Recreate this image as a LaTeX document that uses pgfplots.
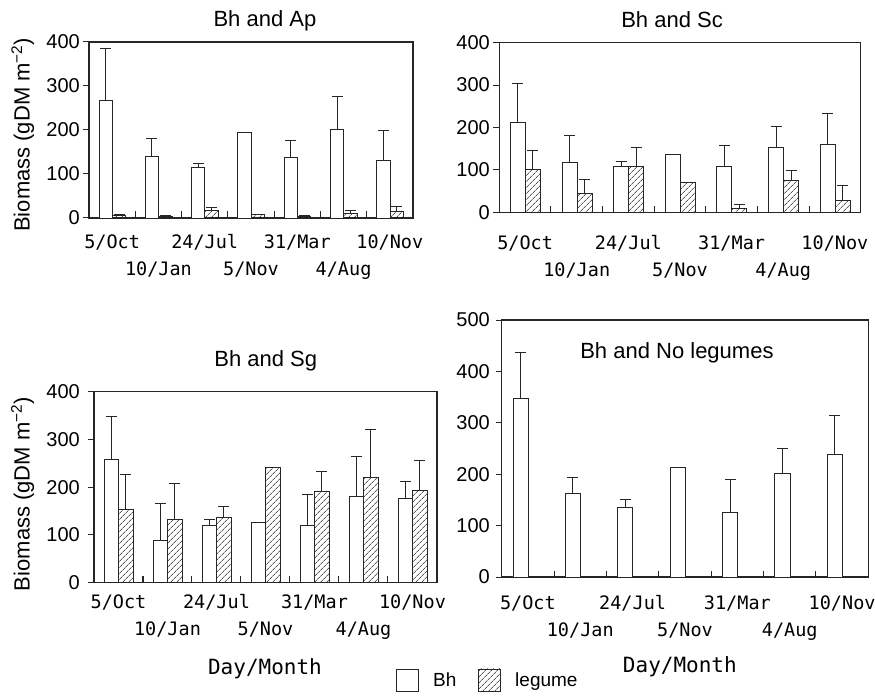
\documentclass[border=0pt]{standalone}
\usepackage{fontspec}
\setmainfont{Liberation Sans}
\newfontfamily\mono{DejaVu Sans Mono}
\usepackage{pgfplots}
\pgfplotsset{compat=1.18}
\usepackage{pgfplotstable}
\usetikzlibrary{patterns.meta}

\pgfplotstableread{
x bh bhe lg lge
0 268 118 5 2
1 140 41 4 2
2 115 10 17 6
3 194 0 7 0
4 138 38 4 1
5 201 75 10 7
6 130 69 15 12
}\tabAp
\pgfplotstableread{
x bh bhe lg lge
0 211 92 101 46
1 118 64 45 33
2 109 10 107 47
3 136 0 70 0
4 108 49 9 9
5 152 50 74 24
6 161 73 28 35
}\tabSc
\pgfplotstableread{
x bh bhe lg lge
0 258 90 154 73
1 89 78 132 76
2 119 13 136 24
3 126 0 242 0
4 119 66 191 43
5 181 84 221 100
6 177 36 193 62
}\tabSg
\pgfplotstableread{
x bh bhe
0 347 89
1 162 31
2 135 16
3 214 0
4 126 64
5 202 49
6 238 77
}\tabNo

\pgfplotsset{
  panel/.style={
    scale only axis, anchor=south west,
    xmin=-0.5, xmax=6.5, ymin=0,
    axis line style={draw=black!85, line width=1.1pt},
    tick align=inside, tick pos=left,
    major tick length=6pt, minor tick length=6.5pt,
    every tick/.style={draw=black!85, line width=1pt},
    ytick style={xshift=-6pt},
    xtick={0,1,2,3,4,5,6},
    major x tick style={draw=none},
    minor x tick num=1,
    xticklabels={{\strut 5/Oct},{\strut\\\strut 10/Jan},{\strut 24/Jul},{\strut\\\strut 5/Nov},{\strut 31/Mar},{\strut\\\strut 4/Aug},{\strut 10/Nov}},
    xticklabel style={font=\mono\fontsize{18.5}{26.7}\selectfont, anchor=north, align=center, inner sep=0pt},
    /pgf/number format/assume math mode=true,
    yticklabel style={font=\fontsize{20}{24}\selectfont, anchor=east, inner sep=0pt},
    every axis title shift=0pt,
    title style={font=\fontsize{22}{26}\selectfont, anchor=center},
    ylabel style={font=\fontsize{22}{26}\selectfont, anchor=center},
    xlabel style={font=\mono\fontsize{21}{25}\selectfont, anchor=center},
  },
  bhbar/.style={ybar, fill=white, draw=black!85, line width=0.9pt, bar width=0.29, bar shift=0pt},
  legbar/.style={ybar, pattern={Lines[angle=45,distance=4pt,line width=0.6pt]}, draw=black!85, line width=0.9pt, bar width=0.29, bar shift=0pt},
  eb/.style={error bars/.cd, y dir=plus, y explicit,
    error bar style={line width=0.9pt, black!85},
    error mark options={rotate=90, line width=0.9pt, black!85, mark size=5.5pt}},
}

\begin{document}
\begin{tikzpicture}[x=1pt,y=1pt]
\useasboundingbox (0,0) rectangle (875,699);

% Top-left: Bh and Ap
\begin{axis}[panel, at={(89pt,481pt)}, width=324pt, height=176pt,
  ymax=400, ytick={0,100,200,300,400},
  yticklabel style={xshift=-9pt},
  xticklabel style={yshift=-11.5pt},
  title={Bh and Ap}, title style={at={(axis description cs:0.543,1.121)}},
  ylabel={Biomass (gDM m\textsuperscript{−2})},
  ylabel style={at={(axis description cs:-0.2046,0.473)}},
]
\addplot[bhbar, eb] table[x expr=\thisrow{x}-0.14, y=bh, y error=bhe] {\tabAp};
\addplot[legbar, eb] table[x expr=\thisrow{x}+0.15, y=lg, y error=lge] {\tabAp};
\end{axis}

% Top-right: Bh and Sc
\begin{axis}[panel, at={(499.3pt,486.7pt)}, width=361.4pt, height=169.6pt,
  ymax=400, ytick={0,100,200,300,400},
  yticklabel style={xshift=-9.3pt},
  xticklabel style={yshift=-18.2pt},
  title={Bh and Sc}, title style={at={(axis description cs:0.478,1.134)}},
]
\addplot[bhbar, eb] table[x expr=\thisrow{x}-0.14, y=bh, y error=bhe] {\tabSc};
\addplot[legbar, eb] table[x expr=\thisrow{x}+0.15, y=lg, y error=lge] {\tabSc};
\end{axis}

% Bottom-left: Bh and Sg
\begin{axis}[panel, at={(94pt,116.3pt)}, width=343pt, height=191pt,
  ymax=400, ytick={0,100,200,300,400},
  yticklabel style={xshift=-14pt},
  xticklabel style={yshift=-6.8pt},
  title={Bh and Sg}, title style={at={(axis description cs:0.5006,1.162)}},
  ylabel={Biomass (gDM m\textsuperscript{−2})},
  ylabel style={at={(axis description cs:-0.208,0.464)}},
  xlabel={Day/Month}, xlabel style={at={(axis description cs:0.4985,-0.448)}},
  legend style={at={(axis description cs:0.8717,-0.5094)}, anchor=west, draw=none, fill=none,
    legend columns=2, font=\fontsize{19}{22}\selectfont,
    /tikz/every odd column/.append style={column sep=12pt},
    /tikz/every even column/.append style={column sep=20pt}},
  legend image code/.code={\draw[#1,/tikz/.cd, draw=black!85, line width=0.9pt] (0pt,-11pt) rectangle (22pt,11pt);},
]
\addplot[bhbar, eb] table[x expr=\thisrow{x}-0.14, y=bh, y error=bhe] {\tabSg};
\addlegendentry{Bh}
\addplot[legbar, eb] table[x expr=\thisrow{x}+0.15, y=lg, y error=lge] {\tabSg};
\addlegendentry{legume}
\end{axis}

% Bottom-right: Bh and No legumes
\begin{axis}[panel, at={(501.7pt,122pt)}, width=366.6pt, height=257pt,
  ymax=500, ytick={0,100,200,300,400,500},
  yticklabel style={xshift=-11.7pt},
  xticklabel style={yshift=-14.1pt},
  title={Bh and No legumes}, title style={at={(axis description cs:0.478,0.872)}},
  xlabel={Day/Month}, xlabel style={at={(axis description cs:0.486,-0.349)}},
]
\addplot[bhbar, eb] table[x expr=\thisrow{x}-0.14, y=bh, y error=bhe] {\tabNo};
\end{axis}
\end{tikzpicture}
\end{document}
